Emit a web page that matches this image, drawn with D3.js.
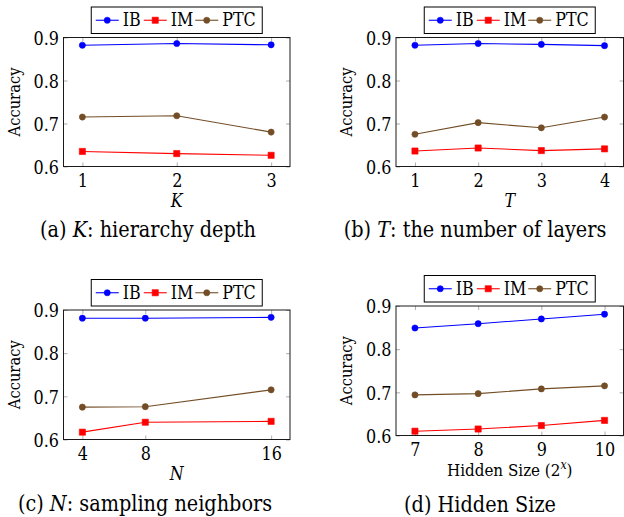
<!DOCTYPE html>
<html>
<head>
<meta charset="utf-8">
<script src="https://cdn.jsdelivr.net/npm/d3@7"></script>
<style>
  html, body { margin: 0; padding: 0; background: #fff; }
  svg { display: block; }
  svg text { font-family: "DejaVu Serif Condensed", "DejaVu Serif", serif; font-stretch: condensed; fill: #000; }
</style>
</head>
<body>
<svg id="chart" width="624" height="517"></svg>
<script>
// ---------- data ----------
const seriesNames = ["IB", "IM", "PTC"];
const yTickValues = [0.6, 0.7, 0.8, 0.9];

const kValues = [1, 2, 3];
const ibK  = [0.882, 0.886, 0.883];
const imK  = [0.635, 0.630, 0.626];
const ptcK = [0.715, 0.718, 0.680];

const tValues = [1, 2, 3, 4];
const ibT  = [0.882, 0.886, 0.884, 0.881];
const imT  = [0.636, 0.643, 0.637, 0.641];
const ptcT = [0.675, 0.702, 0.690, 0.715];

const nValues = [4, 8, 16];
const ibN  = [0.881, 0.881, 0.883];
const imN  = [0.617, 0.640, 0.642];
const ptcN = [0.675, 0.676, 0.715];

const hValues = [7, 8, 9, 10];
const ibH  = [0.849, 0.859, 0.870, 0.881];
const imH  = [0.610, 0.615, 0.623, 0.635];
const ptcH = [0.694, 0.697, 0.708, 0.715];

const captionA = ["(a) ", "K", ": hierarchy depth"];
const captionB = ["(b) ", "T", ": the number of layers"];
const captionC = ["(c) ", "N", ": sampling neighbors"];
const captionD = ["(d) Hidden Size", "", ""];

// ---------- styles / layout ----------
const colors = { IB: "#0000ff", IM: "#ff0000", PTC: "#734d26" };
const markers = { IB: "circle", IM: "square", PTC: "circle" };

const panels = [
  { xs: kValues, series: [ibK, imK, ptcK], x0: 63.5, x1: 290, y0: 37.5, y1: 166.5, xlabel: "K", italic: true, caption: captionA, capX: 148, capY: 237 },
  { xs: tValues, series: [ibT, imT, ptcT], x0: 396, x1: 623.5, y0: 37.5, y1: 166.5, xlabel: "T", italic: true, caption: captionB, capX: 475, capY: 237 },
  { xs: nValues, series: [ibN, imN, ptcN], x0: 63.5, x1: 290, y0: 310, y1: 439.5, xlabel: "N", italic: true, caption: captionC, capX: 145, capY: 511 },
  { xs: hValues, series: [ibH, imH, ptcH], x0: 396, x1: 623.5, y0: 306, y1: 435.5, xlabel: "hidden", italic: false, caption: captionD, capX: 480, capY: 512 }
];

const svg = d3.select("#chart");

// font sizes fitted to the reference's text widths
function fitSize(str, target) {
  const t = svg.append("text").style("font-size", "100px").text(str);
  const w = t.node().getComputedTextLength();
  t.remove();
  return 100 * target / w;
}
const CAP_FS = fitSize("(b) T: the number of layers", 262);
const LAB_FS = fitSize("Accuracy", 69);
const TICK_FS = fitSize("0.9", 25.5);
const LEG_FS = fitSize("IB", 18);
const HID_FS = fitSize("Hidden Size (2x)", 128);

panels.forEach(p => {
  const g = svg.append("g");
  const lo = d3.min(p.xs), hi = d3.max(p.xs), pad = (hi - lo) * 0.1;
  const x = d3.scaleLinear().domain([lo - pad, hi + pad]).range([p.x0, p.x1]);
  const y = d3.scaleLinear().domain([0.6, 0.9]).range([p.y1, p.y0]);

  const tickStyle = sel => {
    sel.attr("font-family", null).attr("font-size", null);
    sel.select(".domain").remove();
    sel.selectAll(".tick line").attr("stroke", "#9a9a9a").attr("stroke-width", 0.8);
  };
  g.append("g").attr("transform", `translate(0,${p.y1})`)
    .call(d3.axisBottom(x).tickValues(p.xs).tickSize(-4).tickFormat(d3.format("d")))
    .call(tickStyle)
    .selectAll("text").attr("y", 20.5).attr("dy", null)
    .style("font-size", TICK_FS + "px").attr("fill", "#000");
  g.append("g").attr("transform", `translate(0,${p.y0})`)
    .call(d3.axisTop(x).tickValues(p.xs).tickSize(-4).tickFormat(""))
    .call(tickStyle);
  g.append("g").attr("transform", `translate(${p.x0},0)`)
    .call(d3.axisLeft(y).tickValues(yTickValues).tickSize(-4).tickFormat(d3.format(".1f")))
    .call(tickStyle)
    .selectAll("text").attr("x", -4.5).attr("y", 6.8).attr("dy", null)
    .style("font-size", TICK_FS + "px").attr("fill", "#000");
  g.append("g").attr("transform", `translate(${p.x1},0)`)
    .call(d3.axisRight(y).tickValues(yTickValues).tickSize(-4).tickFormat(""))
    .call(tickStyle);

  g.append("rect").attr("x", p.x0).attr("y", p.y0)
    .attr("width", p.x1 - p.x0).attr("height", p.y1 - p.y0)
    .attr("fill", "none").attr("stroke", "#1a1a1a").attr("stroke-width", 1);

  const line = d3.line().x(d => x(d[0])).y(d => y(d[1]));
  seriesNames.forEach((name, i) => {
    const pts = p.xs.map((v, j) => [v, p.series[i][j]]);
    g.append("path").datum(pts).attr("d", line)
      .attr("fill", "none").attr("stroke", colors[name]).attr("stroke-width", 1.1);
    const sym = markers[name] === "square" ? d3.symbolSquare : d3.symbolCircle;
    const size = markers[name] === "square" ? 38 : 30;
    g.selectAll(null).data(pts).enter().append("path")
      .attr("d", d3.symbol().type(sym).size(size))
      .attr("transform", d => `translate(${x(d[0])},${y(d[1])})`)
      .attr("fill", colors[name]).attr("stroke", colors[name]).attr("stroke-width", 0.6);
  });

  const cy = (p.y0 + p.y1) / 2;
  g.append("text").attr("transform", `translate(${p.x0 - 44},${cy}) rotate(-90)`)
    .attr("text-anchor", "middle").style("font-size", LAB_FS + "px").text("Accuracy");

  const cx = (p.x0 + p.x1) / 2;
  const xl = g.append("text").attr("x", cx).attr("y", p.y1 + 40)
    .attr("text-anchor", "middle");
  if (p.italic) {
    xl.style("font-style", "italic").style("font-size", (LAB_FS * 1.08) + "px").text(p.xlabel);
  } else {
    xl.style("font-size", HID_FS + "px");
    xl.append("tspan").text("Hidden Size (2");
    xl.append("tspan").attr("dy", -6.5).style("font-size", (HID_FS * 0.72) + "px").style("font-style", "italic").text("x");
    xl.append("tspan").attr("dy", 6.5).text(")");
  }

  const lw = 171, lh = 26.5;
  const lx = cx - lw / 2, ly = p.y0 - 4 - lh;
  const lg = g.append("g").attr("transform", `translate(${lx},${ly})`);
  lg.append("rect").attr("width", lw).attr("height", lh)
    .attr("fill", "#fff").attr("stroke", "#000").attr("stroke-width", 1);
  const lineStarts = [4.5, 52.5, 104];
  seriesNames.forEach((name, i) => {
    const sx = lineStarts[i], my = lh / 2;
    lg.append("line").attr("x1", sx).attr("x2", sx + 23).attr("y1", my).attr("y2", my)
      .attr("stroke", colors[name]).attr("stroke-width", 1.1);
    const sym = markers[name] === "square" ? d3.symbolSquare : d3.symbolCircle;
    lg.append("path").attr("d", d3.symbol().type(sym).size(markers[name] === "square" ? 38 : 30))
      .attr("transform", `translate(${sx + 11.5},${my})`)
      .attr("fill", colors[name]).attr("stroke", colors[name]).attr("stroke-width", 0.6);
    lg.append("text").attr("x", sx + 27).attr("y", my + 6)
      .style("font-size", LEG_FS + "px").text(name);
  });

  const cap = g.append("text").attr("x", p.capX).attr("y", p.capY)
    .attr("text-anchor", "middle").style("font-size", CAP_FS + "px");
  cap.append("tspan").text(p.caption[0]);
  if (p.caption[1]) cap.append("tspan").style("font-style", "italic").text(p.caption[1]);
  if (p.caption[2]) cap.append("tspan").text(p.caption[2]);
});
</script>
</body>
</html>
